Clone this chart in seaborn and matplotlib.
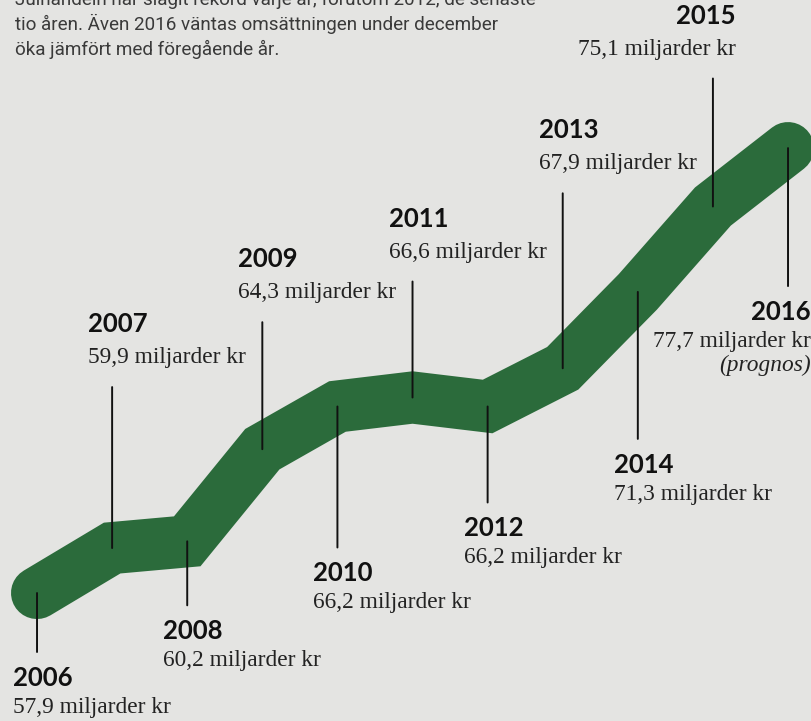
import matplotlib
matplotlib.use("Agg")
import matplotlib.pyplot as plt
import seaborn as sns

# Julhandelns omsättning per år (miljarder kr)
years = [2006, 2007, 2008, 2009, 2010, 2011, 2012, 2013, 2014, 2015, 2016]
values = [57.9, 59.9, 60.2, 64.3, 66.2, 66.6, 66.2, 67.9, 71.3, 75.1, 77.7]
intro = [
    "Julhandeln har slagit rekord varje år, förutom 2012, de senaste",
    "tio åren. Även 2016 väntas omsättningen under december",
    "öka jämfört med föregående år.",
]

# label layout: leader length in pixels (+ up, - down) and alignment
leader = [-59, 161, -64, 127, -141, 116, -96, 175, -147, 128, -138]
align = ["left"] * 9 + ["right", "right"]

GREEN = "#2b6b3b"
BG = "#e4e4e2"

sns.set_theme(style="white")
plt.rcParams["font.family"] = ["DejaVu Sans"]

fig = plt.figure(figsize=(8.11, 7.21), dpi=100, facecolor=BG)
ax = fig.add_axes([0, 0, 1, 1])
ax.set_facecolor(BG)
ax.axis("off")

sns.lineplot(x=years, y=values, ax=ax, color=GREEN, linewidth=37.5,
             solid_capstyle="round", solid_joinstyle="miter")

ax.set_xlim(2005.507, 2016.306)
ax.set_ylim(52.204, 84.29)

for yr, v, L, ha in zip(years, values, leader, align):
    ax.annotate("", xy=(yr, v), xytext=(0, L), textcoords="offset pixels",
                arrowprops=dict(arrowstyle="-", color="#111111", lw=1.4,
                                shrinkA=0, shrinkB=0))
    dx = -24 if ha == "left" else 23
    if L > 0:
        dy_year, dy_val = L + 55, L + 24
    else:
        dy_year, dy_val = L - 34, L - 61
    ax.annotate(str(yr), xy=(yr, v), xytext=(dx, dy_year),
                textcoords="offset pixels", ha=ha, va="baseline",
                fontsize=18.5, fontweight="bold", family="Lato", color="#111111")
    label = f"{v:.1f}".replace(".", ",") + " miljarder kr"
    ax.annotate(label, xy=(yr, v), xytext=(dx, dy_val),
                textcoords="offset pixels", ha=ha, va="baseline",
                fontsize=16.8, family="Liberation Serif", color="#222222")
    if yr == 2016:
        ax.annotate("(prognos)", xy=(yr, v), xytext=(dx, L - 85),
                    textcoords="offset pixels", ha=ha, va="baseline",
                    fontsize=16.8, style="italic", family="Liberation Serif",
                    color="#222222")

for i, line in enumerate(intro):
    fig.text(15 / 811, 1 - (5 + 25 * i) / 721, line, ha="left", va="baseline",
             fontsize=13.6, family="Roboto", color="#3a3a3a")

fig.savefig("out.png", dpi=100, facecolor=BG)
